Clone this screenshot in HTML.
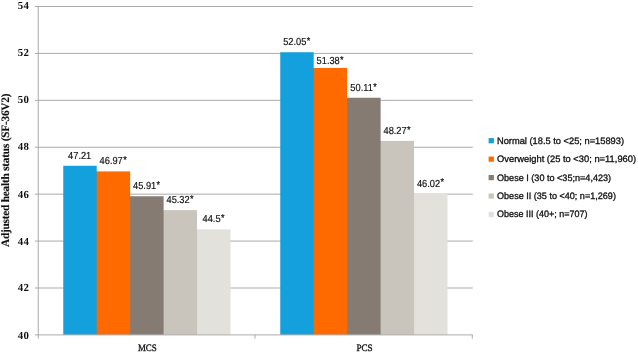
<!DOCTYPE html>
<html><head><meta charset="utf-8"><title>chart</title>
<style>
html,body{margin:0;padding:0;background:#fff;}
svg{display:block;}
text{text-rendering:geometricPrecision;}
.yl{font-family:"Liberation Serif",serif;font-weight:bold;font-size:10.8px;fill:#111;text-anchor:end;letter-spacing:0.35px;}
.dl{font-family:"Liberation Sans",sans-serif;font-size:10.2px;fill:#111;stroke:#111;stroke-width:0.18px;text-anchor:middle;}
.as{font-size:10px;}
.lg{font-family:"Liberation Sans",sans-serif;font-size:9.35px;fill:#111;stroke:#111;stroke-width:0.32px;}
.cl{font-family:"Liberation Serif",serif;font-size:9.8px;fill:#111;stroke:#111;stroke-width:0.3px;text-anchor:middle;}
.yt{font-family:"Liberation Serif",serif;font-weight:bold;font-size:11.3px;fill:#111;stroke:#111;stroke-width:0.15px;letter-spacing:-0.22px;text-anchor:middle;}
</style></head><body>
<svg width="638" height="353" viewBox="0 0 638 353">
<rect x="0" y="0" width="638" height="353" fill="#fff"/>

<line x1="34.8" x2="472.8" y1="287.99" y2="287.99" stroke="#ababab" stroke-width="1"/>
<line x1="34.8" x2="472.8" y1="241.07" y2="241.07" stroke="#ababab" stroke-width="1"/>
<line x1="34.8" x2="472.8" y1="194.16" y2="194.16" stroke="#ababab" stroke-width="1"/>
<line x1="34.8" x2="472.8" y1="147.24" y2="147.24" stroke="#ababab" stroke-width="1"/>
<line x1="34.8" x2="472.8" y1="100.33" y2="100.33" stroke="#ababab" stroke-width="1"/>
<line x1="34.8" x2="472.8" y1="53.42" y2="53.42" stroke="#ababab" stroke-width="1"/>
<line x1="34.8" x2="472.8" y1="6.50" y2="6.50" stroke="#ababab" stroke-width="1"/>
<rect x="196.35" y="229.34" width="34.15" height="105.56" fill="#e3e1db"/>
<rect x="162.90" y="210.11" width="34.15" height="124.79" fill="#cac5bc"/>
<rect x="129.45" y="196.27" width="34.15" height="138.63" fill="#857b72"/>
<rect x="96.00" y="171.40" width="34.15" height="163.50" fill="#ff6a00"/>
<rect x="63.25" y="165.78" width="33.45" height="169.12" fill="#14a0dc"/>
<text class="dl" transform="translate(79.67,159.00) scale(0.91,1)">47.21</text>
<text class="dl" transform="translate(113.13,164.40) scale(0.91,1)">46.97<tspan class="as" dx="0.4" dy="-1.3">*</tspan></text>
<text class="dl" transform="translate(146.57,189.00) scale(0.91,1)">45.91<tspan class="as" dx="0.4" dy="-1.3">*</tspan></text>
<text class="dl" transform="translate(180.03,203.00) scale(0.91,1)">45.32<tspan class="as" dx="0.4" dy="-1.3">*</tspan></text>
<text class="dl" transform="translate(213.47,222.00) scale(0.91,1)">44.5<tspan class="as" dx="0.4" dy="-1.3">*</tspan></text>
<rect x="413.35" y="193.69" width="34.15" height="141.21" fill="#e3e1db"/>
<rect x="379.90" y="140.91" width="34.15" height="193.99" fill="#cac5bc"/>
<rect x="346.45" y="97.75" width="34.15" height="237.15" fill="#857b72"/>
<rect x="313.00" y="67.96" width="34.15" height="266.94" fill="#ff6a00"/>
<rect x="280.25" y="52.24" width="33.45" height="282.66" fill="#14a0dc"/>
<text class="dl" transform="translate(296.68,45.00) scale(0.91,1)">52.05<tspan class="as" dx="0.4" dy="-1.3">*</tspan></text>
<text class="dl" transform="translate(330.12,64.00) scale(0.91,1)">51.38<tspan class="as" dx="0.4" dy="-1.3">*</tspan></text>
<text class="dl" transform="translate(363.57,91.00) scale(0.91,1)">50.11<tspan class="as" dx="0.4" dy="-1.3">*</tspan></text>
<text class="dl" transform="translate(397.03,134.00) scale(0.91,1)">48.27<tspan class="as" dx="0.4" dy="-1.3">*</tspan></text>
<text class="dl" transform="translate(430.48,186.50) scale(0.91,1)">46.02<tspan class="as" dx="0.4" dy="-1.3">*</tspan></text>
<line x1="34.8" x2="472.8" y1="334.9" y2="334.9" stroke="#ababab" stroke-width="1"/>
<line x1="38.25" x2="38.25" y1="6.00" y2="338.60" stroke="#ababab" stroke-width="1"/>
<line x1="255.00" x2="255.00" y1="334.9" y2="338.60" stroke="#ababab" stroke-width="1"/>
<line x1="472.30" x2="472.30" y1="334.9" y2="338.60" stroke="#ababab" stroke-width="1"/>
<text class="yl" x="29.2" y="338.50">40</text>
<text class="yl" x="29.2" y="291.40">42</text>
<text class="yl" x="29.2" y="244.60">44</text>
<text class="yl" x="29.2" y="197.60">46</text>
<text class="yl" x="29.2" y="150.00">48</text>
<text class="yl" x="29.2" y="102.90">50</text>
<text class="yl" x="29.2" y="55.90">52</text>
<text class="yl" x="29.2" y="9.00">54</text>
<text class="cl" x="147.29" y="351.2" textLength="18.8" lengthAdjust="spacingAndGlyphs">MCS</text>
<text class="cl" x="364.56" y="351.2" textLength="16.3" lengthAdjust="spacingAndGlyphs">PCS</text>
<rect x="488.6" y="138.10" width="5.3" height="5.2" fill="#14a0dc"/>
<text class="lg" x="497" y="143.60" textLength="127.0" lengthAdjust="spacingAndGlyphs">Normal (18.5 to &lt;25; n=15893)</text>
<rect x="488.6" y="156.55" width="5.3" height="5.2" fill="#ff6a00"/>
<text class="lg" x="497" y="162.05" textLength="139.1" lengthAdjust="spacingAndGlyphs">Overweight (25 to &lt;30; n=11,960)</text>
<rect x="488.6" y="175.00" width="5.3" height="5.2" fill="#857b72"/>
<text class="lg" x="497" y="180.50" textLength="114.1" lengthAdjust="spacingAndGlyphs">Obese I (30 to &lt;35;n=4,423)</text>
<rect x="488.6" y="193.45" width="5.3" height="5.2" fill="#cac5bc"/>
<text class="lg" x="497" y="198.95" textLength="118.9" lengthAdjust="spacingAndGlyphs">Obese II (35 to &lt;40; n=1,269)</text>
<rect x="488.6" y="211.90" width="5.3" height="5.2" fill="#e3e1db"/>
<text class="lg" x="497" y="217.40" textLength="90.4" lengthAdjust="spacingAndGlyphs">Obese III (40+; n=707)</text>
<text class="yt" transform="translate(9.0,170.4) rotate(-90)" x="0" y="0">Adjusted health status (SF-36V2)</text>
</svg></body></html>
